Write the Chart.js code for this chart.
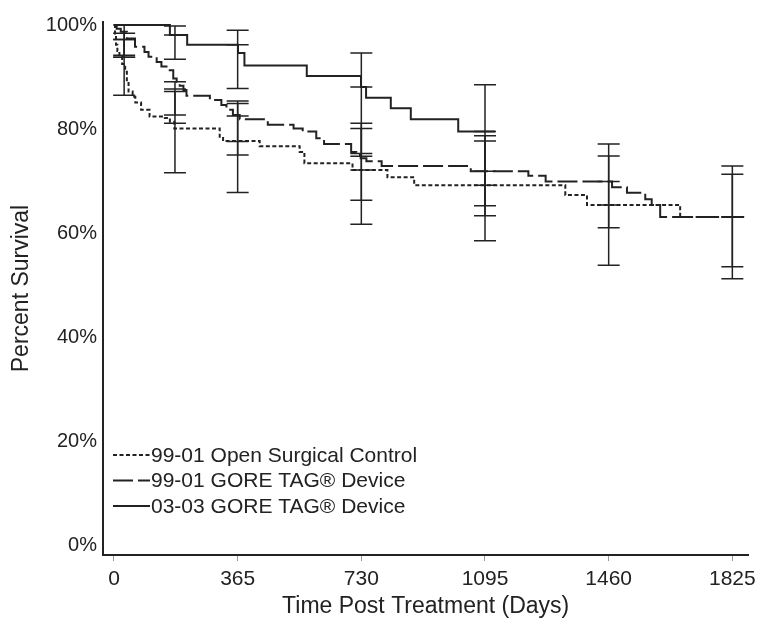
<!DOCTYPE html>
<html lang="en">
<head>
<meta charset="UTF-8">
<title>Survival</title>
<script src="https://cdn.jsdelivr.net/npm/chart.js"></script>
<style>
  body { margin: 0; background: #fff; }
  #box { width: 762px; height: 618px; }
</style>
</head>
<body>
<div id="box"><canvas id="grafico"></canvas></div>
<script>
// x ticks (days) and y ticks (percent)
const xTicks = [0, 365, 730, 1095, 1460, 1825]
const yTicks = [0, 20, 40, 60, 80, 100]

const labels = ["99-01 Open Surgical Control", "99-01 GORE TAG\u00AE Device", "03-03 GORE TAG\u00AE Device"]

// Kaplan-Meier curves: day of each step and survival after it
const openDays = [0, 3, 6, 10, 16, 24, 33, 38, 43, 55, 63, 80, 105, 150, 165, 178, 312, 322, 430, 548, 562, 704, 807, 886, 1332, 1396, 1671, 1860]
const openSurv = [100, 98, 96.2, 95, 94, 92.5, 91, 89.1, 87.2, 86.2, 85.1, 83.7, 82.4, 82.1, 81.4, 80.1, 78.5, 77.7, 76.7, 75.6, 73.4, 72.1, 70.7, 69.2, 67.3, 65.4, 63.1, 63.1]

const tag99Days = [0, 8, 20, 38, 62, 90, 102, 126, 140, 155, 175, 185, 194, 205, 214, 283, 317, 332, 351, 371, 454, 530, 557, 597, 620, 700, 715, 728, 745, 790, 1053, 1223, 1274, 1470, 1514, 1568, 1587, 1612, 1860]
const tag99Surv = [100, 99.3, 98.7, 97.4, 95.8, 94.8, 93.9, 92.9, 92.0, 91.3, 89.7, 89.1, 88.3, 87.5, 86.4, 85.6, 84.6, 83.7, 82.7, 81.9, 80.8, 80.1, 79.5, 78.2, 77.1, 75.6, 75.0, 74.4, 73.8, 72.9, 71.9, 71.0, 69.9, 68.8, 67.75, 66.5, 65.4, 63.1, 63.1]

const tag03Days = [0, 165, 216, 366, 385, 569, 729, 744, 817, 876, 1016, 1125]
const tag03Surv = [100, 98.1, 96.2, 94.6, 92.2, 90.2, 88.1, 86.0, 84.0, 81.9, 79.5, 79.5]

// confidence bars
const ciDays = [30, 180, 365, 730, 1095, 1460, 1825]
const openHi  = [97.2, 87.2, 84.9, 80.1, 77.7, 74.8, 71.3]
const openEst = [93.8, 81.1, 77.6, 72.1, 69.2, 65.4, 63.1]
const openLo  = [86.5, 71.6, 67.8, 61.7, 58.5, 53.8, 51.2]

const tag99Hi  = [98.4, 89.1, 85.4, 81.1, 78.7, 77.1, 72.9]
const tag99Est = [97.2, 87.7, 82.5, 74.75, 71.9, 69.9, 63.1]
const tag99Lo  = [93.8, 82.7, 75.0, 66.3, 65.25, 61.0, 53.5]

const tag03CiDays = [30, 180, 365, 730, 1095]
const tag03Hi  = [100, 99.8, 99.0, 94.6, 88.5]
const tag03Est = [100, 98.1, 96.2, 88.1, 79.5]
const tag03Lo  = [94.2, 93.4, 87.8, 75.3, 63.3]

const pts = (d, s) => d.map((v, i) => ({x: v, y: s[i]}))

const bars = [
  {days: ciDays, hi: openHi, est: openEst, lo: openLo},
  {days: ciDays, hi: tag99Hi, est: tag99Est, lo: tag99Lo},
  {days: tag03CiDays, hi: tag03Hi, est: tag03Est, lo: tag03Lo}
]

const ink = '#222'
const fam = '"Liberation Sans", Arial, sans-serif'

Chart.defaults.font.family = fam
Chart.defaults.font.size = 20
Chart.defaults.color = ink

const errorBars = {
  id: 'errorBars',
  afterDatasetsDraw(chart) {
    const {ctx, scales: {x, y}} = chart
    ctx.save()
    ctx.strokeStyle = ink
    ctx.lineWidth = 1.5
    bars.forEach(b => {
      b.days.forEach((d, i) => {
        const px = x.getPixelForValue(d)
        const top = y.getPixelForValue(b.hi[i])
        const bot = y.getPixelForValue(b.lo[i])
        ctx.beginPath()
        ctx.moveTo(px, top); ctx.lineTo(px, bot)
        ;[b.hi[i], b.est[i], b.lo[i]].forEach(v => {
          const py = y.getPixelForValue(v)
          ctx.moveTo(px - 11, py); ctx.lineTo(px + 11, py)
        })
        ctx.stroke()
      })
    })
    ctx.restore()
  }
}

const legendaDentro = {
  id: 'legendaDentro',
  afterDraw(chart) {
    const {ctx} = chart
    ctx.save()
    ctx.font = '21px ' + fam
    ctx.textBaseline = 'middle'
    ctx.fillStyle = ink
    chart.data.datasets.forEach((ds, i) => {
      const yy = 455 + i * 25.5
      ctx.strokeStyle = ink
      ctx.lineWidth = 2
      ctx.setLineDash(ds.borderDash || [])
      ctx.beginPath()
      ctx.moveTo(113, yy); ctx.lineTo(150, yy)
      ctx.stroke()
      ctx.setLineDash([])
      ctx.fillText(ds.label, 151, yy + 1)
    })
    ctx.restore()
  }
}

new Chart(document.getElementById('grafico'), {
  type: 'line',
  data: {
    datasets: [
      {label: labels[0], data: pts(openDays, openSurv), borderDash: [4, 2.5]},
      {label: labels[1], data: pts(tag99Days, tag99Surv), borderDash: [20, 5]},
      {label: labels[2], data: pts(tag03Days, tag03Surv)}
    ].map(d => Object.assign(d, {borderColor: ink, borderWidth: 2, pointRadius: 0, stepped: true, fill: false}))
  },
  options: {
    responsive: true,
    maintainAspectRatio: false,
    animation: false,
    layout: {padding: {left: 0, right: 12, top: 22, bottom: 0}},
    plugins: {legend: {display: false}, tooltip: {enabled: false}},
    scales: {
      x: {
        type: 'linear',
        min: -32.4, max: 1872.1,
        afterBuildTicks: s => { s.ticks = xTicks.map(v => ({value: v})) },
        afterFit: s => { s.height = 63 },
        grid: {drawOnChartArea: false, drawTicks: true, tickLength: 6, color: '#999'},
        border: {display: true, color: ink, width: 2},
        ticks: {padding: 6, color: ink, font: {size: 21}, callback: v => String(v)},
        title: {display: true, text: 'Time Post Treatment (Days)', color: ink, font: {size: 23, lineHeight: 1}, padding: {top: 0, bottom: 0}}
      },
      y: {
        min: -1.923, max: 100.58,
        afterBuildTicks: s => { s.ticks = yTicks.map(v => ({value: v})) },
        afterFit: s => { s.width = 103 },
        grid: {drawOnChartArea: false, drawTicks: false},
        border: {display: true, color: ink, width: 2},
        ticks: {padding: 6, color: ink, callback: v => v + '%'},
        title: {display: true, text: 'Percent Survival', color: ink, font: {size: 23, lineHeight: 1}, padding: {top: 10, bottom: 0}}
      }
    }
  },
  plugins: [errorBars, legendaDentro]
})
</script>
</body>
</html>
